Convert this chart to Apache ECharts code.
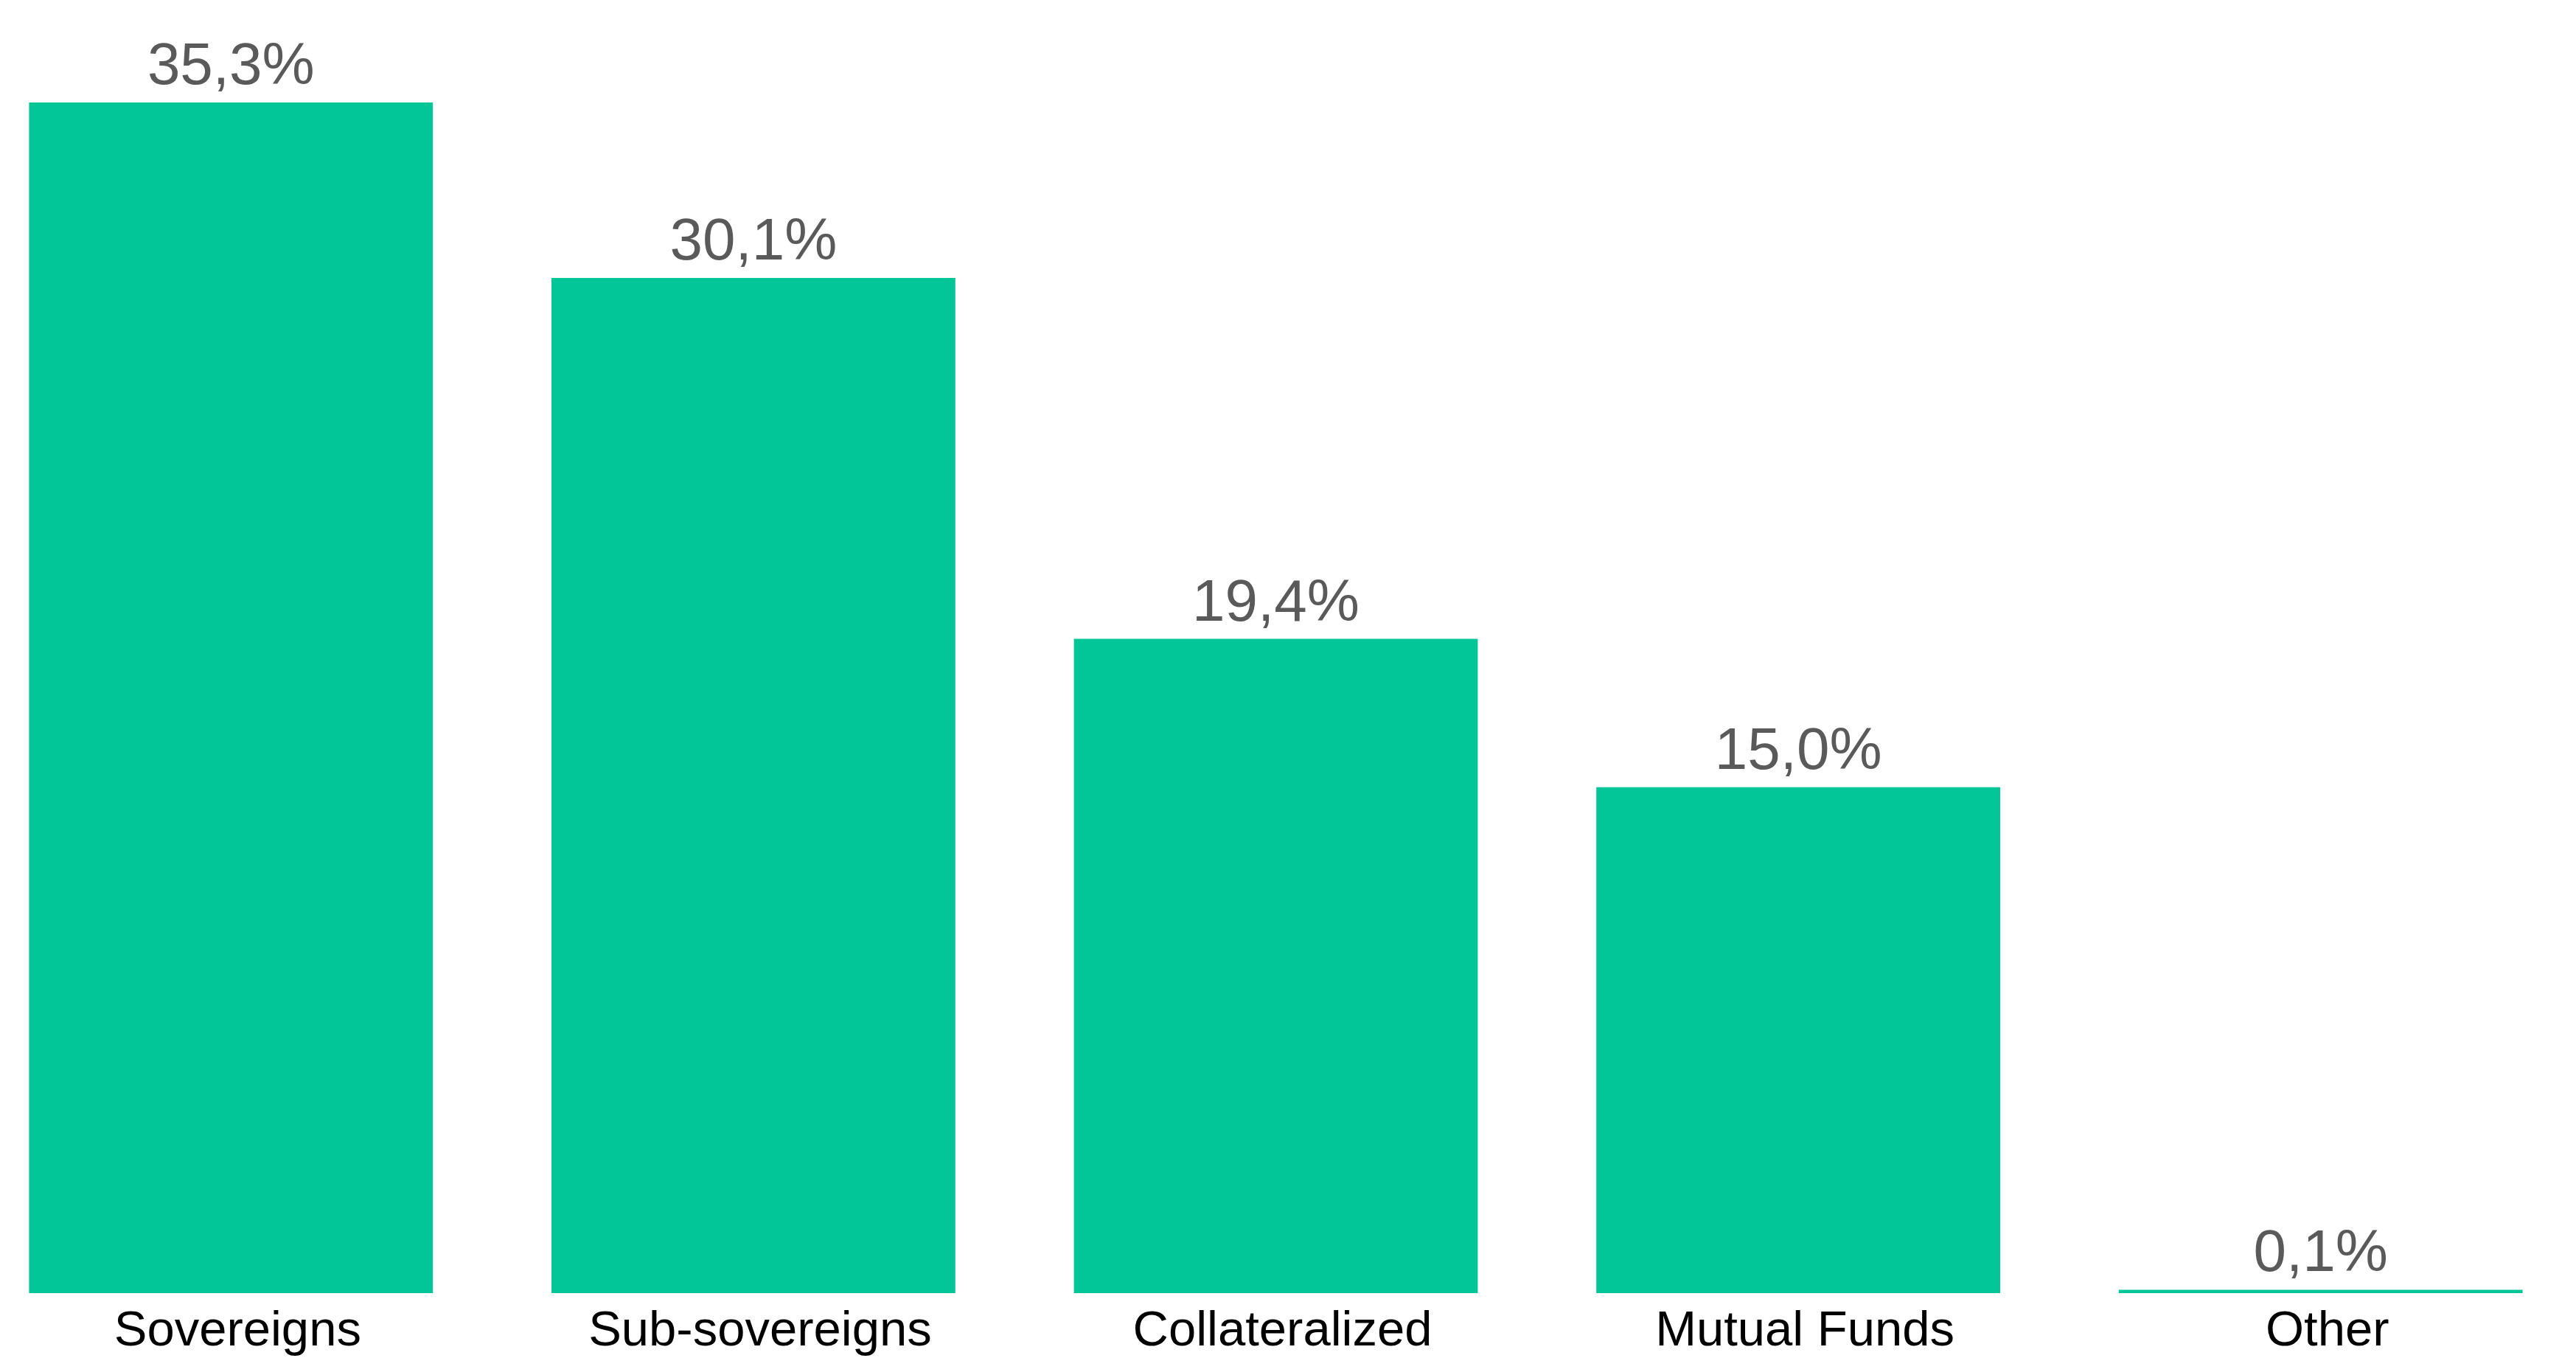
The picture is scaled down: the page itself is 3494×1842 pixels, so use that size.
<!DOCTYPE html>
<html>
<head>
<meta charset="utf-8">
<script src="https://cdn.jsdelivr.net/npm/echarts@6/dist/echarts.min.js"></script>
<style>
html,body{margin:0;padding:0;background:#fff;}
#chart{width:3494px;height:1842px;}
</style>
</head>
<body>
<div id="chart"></div>
<script>
const categories = ['Sovereigns', 'Sub-sovereigns', 'Collateralized', 'Mutual Funds', 'Other'];
const shares = [35.3, 30.1, 19.4, 15.0, 0.1];

const chart = echarts.init(document.getElementById('chart'), null, {renderer: 'canvas'});
chart.setOption({
  backgroundColor: '#ffffff',
  animation: false,
  grid: {left: -41, right: -8, top: 107, bottom: 88, containLabel: false, outerBoundsMode: 'none'},
  xAxis: {
    type: 'category',
    data: categories,
    axisLine: {show: false},
    axisTick: {show: false},
    axisLabel: {
      color: '#000000',
      fontFamily: 'Liberation Sans, Arial, sans-serif',
      fontSize: 67,
      margin: 19,
      padding: [0, 0, 0, 18],
      interval: 0
    }
  },
  yAxis: {
    type: 'value',
    min: 0,
    max: 36,
    show: false,
    splitLine: {show: false}
  },
  series: [{
    type: 'bar',
    data: shares,
    barWidth: '77.3%',
    itemStyle: {color: '#02C697'},
    label: {
      show: true,
      position: 'top',
      distance: 7,
      color: '#5a5a5a',
      fontFamily: 'Liberation Sans, Arial, sans-serif',
      fontSize: 80,
      formatter: p => p.value.toFixed(1).replace('.', ',') + '%'
    }
  }]
});
</script>
</body>
</html>
